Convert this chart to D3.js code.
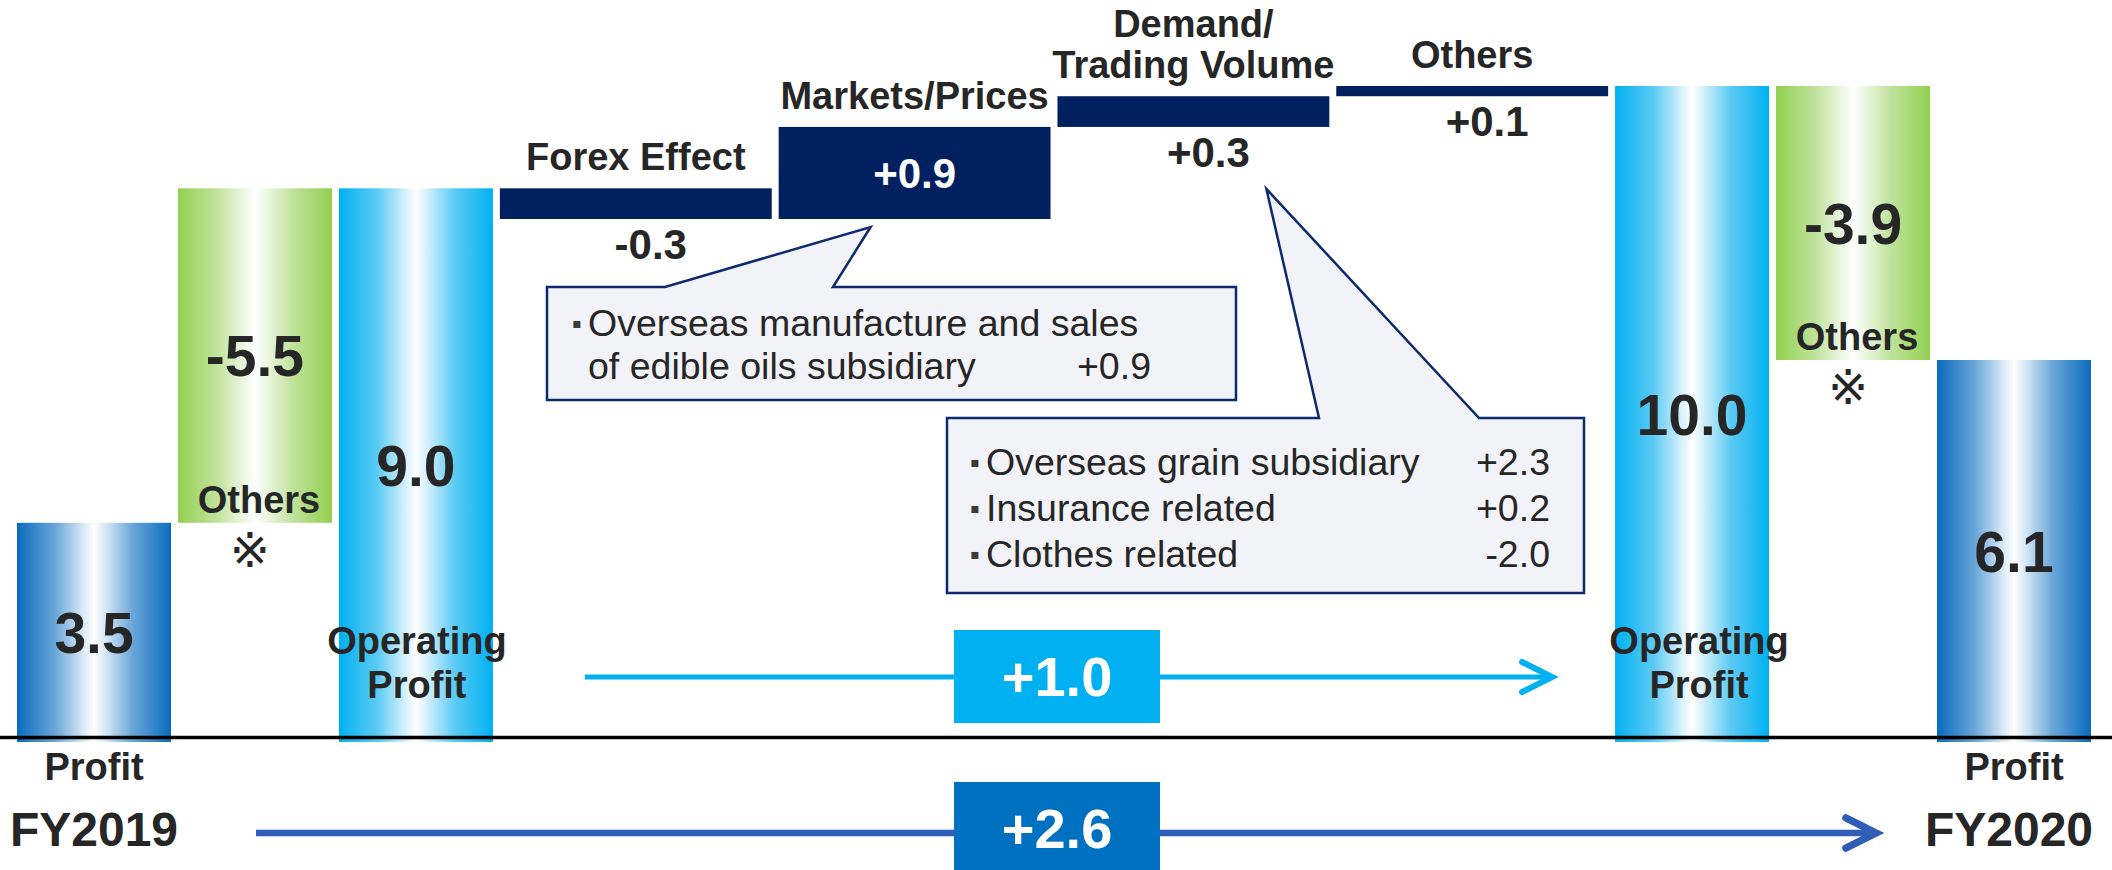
<!DOCTYPE html>
<html>
<head>
<meta charset="utf-8">
<script src="https://cdn.jsdelivr.net/npm/d3@7"></script>
<style>
  html, body { margin: 0; padding: 0; background: #ffffff; }
  svg { display: block; }
  text { font-family: "Liberation Sans", Arial, sans-serif; fill: #262626; }
</style>
</head>
<body>
<svg id="chart" width="2112" height="870"></svg>
<script>
// ---- Bridge steps, left to right ----
const stepLabels = [["Profit"], ["Others"], ["Operating", "Profit"], ["Forex Effect"], ["Markets/Prices"],
                    ["Demand/", "Trading Volume"], ["Others"], ["Operating", "Profit"], ["Others"], ["Profit"]];
const stepValues = [3.5, -5.5, 9.0, -0.3, 0.9, 0.3, 0.1, 10.0, -3.9, 6.1];
const stepKinds  = ["profit", "adjust", "operating", "delta", "delta", "delta", "delta", "operating", "adjust", "profit"];
const stepYears  = ["FY2019", "FY2019", "FY2019", null, null, null, null, "FY2020", "FY2020", "FY2020"];
const fiscalYears = ["FY2019", "FY2020"];
const noteMark = "※";

// ---- Breakdown notes ----
const marketsNoteLines  = ["Overseas manufacture and sales", "of edible oils subsidiary"];
const marketsNoteValues = [0.9];
const demandNoteItems   = ["Overseas grain subsidiary", "Insurance related", "Clothes related"];
const demandNoteValues  = [2.3, 0.2, -2.0];

// ---- Number formats (plain hyphen for negatives) ----
const loc = d3.formatLocale({ decimal: ".", thousands: ",", grouping: [3], currency: ["", ""], minus: "-" });
const fmt = loc.format(".1f");
const fmtSigned = loc.format("+.1f");

const W = 2112, H = 870;
const svg = d3.select("#chart");
const DARK = "#262626";
const NAVY = "#002060";
const CAPTION = 38;

// ---- Horizontal layout: narrow columns for totals, wide ones for the moves ----
const slotUnits = { profit: 1, adjust: 1, operating: 1, delta: 1.765 };
const gapUnits = 0.045;
let acc = 0;
const slots = stepKinds.map(k => {
  const s = { x0: acc, x1: acc + slotUnits[k] };
  acc = s.x1 + gapUnits;
  return s;
});
const x = d3.scaleLinear().domain([0, acc - gapUnits]).range([17, 2091]);

// ---- Vertical scale: the top band is stretched so the small moves stay readable ----
const y = d3.scaleLinear().domain([0, 6.1, 8.7, 10]).range([742, 360, 219, 86]);

// ---- Bar extents ----
const opByYear = {};
stepKinds.forEach((k, i) => { if (k === "operating") opByYear[stepYears[i]] = stepValues[i]; });
let level = 0;
const steps = stepValues.map((v, i) => {
  const kind = stepKinds[i];
  let lo, hi;
  if (kind === "profit" || kind === "operating") {
    lo = 0; hi = v;
    if (kind === "operating") level = v;
  } else if (kind === "adjust") {
    const base = opByYear[stepYears[i]];
    lo = base + v; hi = base;
  } else {
    const start = level;
    level = start + v;
    lo = Math.min(start, level); hi = Math.max(start, level);
  }
  const xa = x(slots[i].x0), xb = x(slots[i].x1);
  return { i, kind, value: v, label: stepLabels[i], year: stepYears[i], lo, hi, xa, xb, cx: (xa + xb) / 2 };
});

// ---- Glossy column fills ----
const defs = svg.append("defs");
function sheen(id, edge, mid, light) {
  const g = defs.append("linearGradient").attr("id", id)
    .attr("x1", "0").attr("x2", "1").attr("y1", "0").attr("y2", "0");
  [[0, edge], [0.25, mid], [0.42, light], [0.5, "#ffffff"], [0.58, light], [0.75, mid], [1, edge]]
    .forEach(([o, c]) => g.append("stop").attr("offset", o).attr("stop-color", c));
}
sheen("g-profit", "#0a6cbf", "#6aa6d8", "#d3e6f5");
sheen("g-operating", "#00b0f0", "#5ccbf4", "#cfeefb");
sheen("g-adjust", "#92d050", "#bfe29a", "#eaf6df");

// ---- Bars ----
svg.append("g").selectAll("rect").data(steps).join("rect")
  .attr("x", d => d.xa)
  .attr("width", d => d.xb - d.xa)
  .attr("y", d => y(d.hi))
  .attr("height", d => y(d.lo) - y(d.hi))
  .attr("fill", d => d.kind === "delta" ? NAVY : `url(#g-${d.kind})`);

// ---- Ground line ----
svg.append("line")
  .attr("x1", 0).attr("x2", W)
  .attr("y1", y(0) - 4.5).attr("y2", y(0) - 4.5)
  .attr("stroke", "#000").attr("stroke-width", 3.5);

const labels = svg.append("g");

// Totals and "Others" adjustments: value in the middle of the column
steps.filter(d => d.kind !== "delta").forEach(d => {
  labels.append("text")
    .attr("x", d.cx).attr("y", (y(d.lo) + y(d.hi)) / 2).attr("dy", "0.36em")
    .attr("text-anchor", "middle").attr("font-weight", "bold").attr("font-size", 57)
    .text(fmt(d.value));
});

// Operating profit captions near the foot of the column
steps.filter(d => d.kind === "operating").forEach((d, k) => {
  d.label.forEach((t, j) => {
    labels.append("text")
      .attr("x", d.cx + (k === 1 ? 7 : 1)).attr("y", y(0) - 88 + j * 44)
      .attr("text-anchor", "middle").attr("font-weight", "bold").attr("font-size", CAPTION)
      .text(t);
  });
});

// Profit captions and fiscal years under the ground line
steps.filter(d => d.kind === "profit").forEach((d, k) => {
  labels.append("text")
    .attr("x", d.cx).attr("y", y(0) + 38)
    .attr("text-anchor", "middle").attr("font-weight", "bold").attr("font-size", CAPTION)
    .text(d.label[0]);
  labels.append("text")
    .attr("x", d.cx - (k === 1 ? 5 : 0)).attr("y", y(0) + 104)
    .attr("text-anchor", "middle").attr("font-weight", "bold").attr("font-size", 48)
    .text(fiscalYears[k]);
});

// "Others" adjustments: caption at the bottom inside, note mark beneath
steps.filter(d => d.kind === "adjust").forEach(d => {
  labels.append("text")
    .attr("x", d.cx + 4).attr("y", y(d.lo) - 10)
    .attr("text-anchor", "middle").attr("font-weight", "bold").attr("font-size", CAPTION)
    .text(d.label[0]);
  labels.append("text")
    .attr("x", d.cx - 5).attr("y", y(d.lo) + 27).attr("dy", "0.36em")
    .attr("text-anchor", "middle").attr("font-size", 48)
    .style("font-family", "'DejaVu Sans', 'Noto Sans CJK JP', sans-serif")
    .text(noteMark);
});

// Moves: category above, value below (or inside when the bar is tall)
steps.filter(d => d.kind === "delta").forEach(d => {
  const n = d.label.length;
  d.label.forEach((t, j) => {
    labels.append("text")
      .attr("x", d.cx).attr("y", y(d.hi) - 18 - (n - 1 - j) * 41)
      .attr("text-anchor", "middle").attr("font-weight", "bold").attr("font-size", CAPTION)
      .text(t);
  });
  const tall = y(d.lo) - y(d.hi) > 60;
  labels.append("text")
    .attr("x", tall ? d.cx : d.cx + 15)
    .attr("y", tall ? (y(d.lo) + y(d.hi)) / 2 : y(d.lo) + 40)
    .attr("dy", tall ? "0.36em" : null)
    .attr("text-anchor", "middle").attr("font-weight", "bold").attr("font-size", 42)
    .style("fill", tall ? "#ffffff" : DARK)
    .text(fmtSigned(d.value));
});

// ---- Breakdown callouts ----
const bubbles = svg.append("g");
const notes = svg.append("g");
const NOTE = 37.5;
function callout(box, notch, tip) {
  const p = d3.path();
  p.moveTo(box.x0, box.y0);
  p.lineTo(notch[0], box.y0);
  p.lineTo(tip[0], tip[1]);
  p.lineTo(notch[1], box.y0);
  p.lineTo(box.x1, box.y0);
  p.lineTo(box.x1, box.y1);
  p.lineTo(box.x0, box.y1);
  p.closePath();
  bubbles.append("path").attr("d", p.toString())
    .attr("fill", "#f2f3f8").attr("stroke", "#0d2a6e").attr("stroke-width", 2.5)
    .attr("stroke-linejoin", "miter");
}
function bullet(xc, base) {
  notes.append("text").attr("x", xc).attr("y", base - 13).attr("dy", "0.36em")
    .attr("text-anchor", "middle").attr("font-size", 14)
    .style("font-family", "'DejaVu Sans', sans-serif")
    .style("fill", "#3a3a3a")
    .text("▪");
}

// Markets/Prices breakdown
const markets = steps[4];
callout({ x0: 547, y0: 287, x1: 1236, y1: 400 }, [665, 833], [markets.cx - 44, y(markets.lo) + 8]);
bullet(577, 336);
marketsNoteLines.forEach((t, j) => {
  notes.append("text").attr("x", 588).attr("y", 336 + j * 43)
    .attr("font-size", NOTE).text(t);
});
notes.append("text").attr("x", 1151).attr("y", 379)
  .attr("text-anchor", "end").attr("font-size", NOTE).text(fmtSigned(marketsNoteValues[0]));

// Demand/Trading Volume breakdown
const demand = steps[5];
callout({ x0: 947, y0: 418, x1: 1584, y1: 593 }, [1319, 1479], [demand.cx + 73, y(demand.lo) + 62]);
demandNoteItems.forEach((t, j) => {
  const base = 475 + j * 46;
  bullet(975, base);
  notes.append("text").attr("x", 986).attr("y", base).attr("font-size", NOTE).text(t);
  notes.append("text").attr("x", 1550).attr("y", base)
    .attr("text-anchor", "end").attr("font-size", NOTE).text(fmtSigned(demandNoteValues[j]));
});

// ---- Year-on-year change arrows ----
const op19 = steps[2], op20 = steps[7], pr19 = steps[0], pr20 = steps[9];
function changeArrow(x0, x1, yy, color, width, boxFill, boxY, boxH, value) {
  const g = svg.append("g");
  g.append("line").attr("x1", x0).attr("x2", x1 - 3).attr("y1", yy).attr("y2", yy)
    .attr("stroke", color).attr("stroke-width", width);
  g.append("polyline")
    .attr("points", [[x1 - 30, yy - 15], [x1, yy], [x1 - 30, yy + 15]].map(p => p.join(",")).join(" "))
    .attr("fill", "none").attr("stroke", color).attr("stroke-width", width + 1)
    .attr("stroke-linecap", "round").attr("stroke-linejoin", "miter");
  const bx = 1057, bw = 206;
  g.append("rect").attr("x", bx - bw / 2).attr("y", boxY).attr("width", bw).attr("height", boxH)
    .attr("fill", boxFill);
  g.append("text").attr("x", bx).attr("y", boxY + 46).attr("dy", "0.36em")
    .attr("text-anchor", "middle").attr("font-weight", "bold").attr("font-size", 56)
    .style("fill", "#ffffff")
    .text(fmtSigned(value));
}
changeArrow(op19.xb + 92, op20.xa - 63, 677, "#00b0f0", 5, "#00b0f0", 630, 93, op20.value - op19.value);
changeArrow(pr19.xb + 85, pr20.xa - 61, 833, "#2f5db8", 6.5, "#0070c0", 782, 100, pr20.value - pr19.value);
</script>
</body>
</html>
